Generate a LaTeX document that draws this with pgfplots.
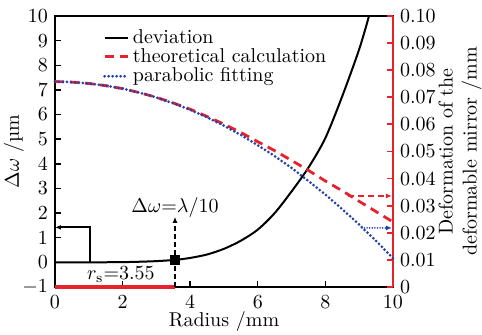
\documentclass[border=0pt]{standalone}
\usepackage{pgfplots}
\pgfplotsset{compat=1.18}
\usetikzlibrary{arrows.meta}
\definecolor{myred}{RGB}{230,35,45}
\definecolor{myblue}{RGB}{35,65,170}
\begin{document}
\begin{tikzpicture}
\begin{axis}[
  name=ax,
  scale only axis, width=169pt, height=135.5pt,
  xmin=0, xmax=10, ymin=-1, ymax=10,
  xtick={0,2,...,10}, ytick={-1,0,...,10},
  xtick pos=bottom, ytick pos=left,
  tick align=inside,
  major tick length=3pt,
  axis line style={line width=0.8pt},
  tick style={line width=0.7pt, black},
  xticklabel style={anchor=center, yshift=-7.5pt},
  xlabel={Radius /mm},
  ylabel={$\Delta\omega$ /µm},
  xlabel style={at={([yshift=-17.5pt]axis description cs:0.5,0)}, anchor=center},
  ylabel style={at={([xshift=-20.5pt]axis description cs:0,0.5)}, anchor=center},
  clip=false,
  legend style={draw=none, fill=none, at={(0.135,0.975)}, anchor=north west, row sep=-2.8pt, inner sep=1pt, nodes={inner xsep=1.5pt}},
  legend cell align=left,
  legend image code/.code={\draw[#1] (0cm,0cm) -- (0.42cm,0cm);},
]
\addplot[black, line width=1pt, smooth] coordinates {
(0,0) (1,0) (2,0.01) (2.5,0.025) (3,0.05) (3.55,0.10) (4,0.18) (4.5,0.32) (5,0.55) (5.5,0.88) (6,1.33) (6.5,2.0) (7,2.88) (7.5,3.85) (8,5.05) (8.5,6.75) (9,8.65) (9.29,10)
};
\addlegendentry{deviation}
\addlegendimage{myred, line width=1.4pt, dash pattern=on 4.5pt off 3pt}
\addlegendentry{theoretical calculation}
\addlegendimage{myblue, line width=1.5pt, line cap=round, dash pattern=on 0pt off 2pt}
\addlegendentry{parabolic fitting}
% red segment on the x axis
\addplot[myred, line width=1.6pt, forget plot] coordinates {(0,-1) (3.55,-1)};
% black annotation
\addplot[black, line width=1pt, -{Latex[length=3pt,width=2.5pt]}, forget plot] coordinates {(1.04,0) (1.04,1.42) (0,1.42)};
% dashed vertical
\addplot[black, line width=0.8pt, dash pattern=on 2.5pt off 1.5pt, -{Latex[length=3pt,width=2.5pt]}, forget plot] coordinates {(3.55,-1) (3.55,1.85)};
\addplot[only marks, mark=square*, mark size=2.2pt, black, forget plot] coordinates {(3.55,0.1)};
\node at (axis cs:3.55,2.22) {$\Delta\omega{=}\lambda/10$};
\node at (axis cs:1.95,-0.5) {$r_{\mathrm{s}}{=}3.55$};
\end{axis}
\begin{axis}[
  scale only axis, width=169pt, height=135.5pt,
  xmin=0, xmax=10, ymin=0, ymax=0.1,
  hide x axis,
  axis y line*=right,
  y axis line style={myred, line width=1.1pt},
  ytick={0,0.01,0.02,0.03,0.04,0.05,0.06,0.07,0.08,0.09,0.1},
  yticklabels={0,0.01,0.02,0.03,0.04,0.05,0.06,0.07,0.08,0.09,0.10},
  tick align=inside,
  major tick length=3pt,
  ytick style={myred, line width=0.9pt},
  ylabel={Deformation of the\\deformable mirror /mm},
  ylabel style={at={([xshift=33.5pt]axis description cs:1,0.5)}, anchor=center, align=center},
  clip=false,
]
\addplot[myred, line width=1.4pt, dash pattern=on 4.5pt off 3pt] coordinates {
(0,0.0758) (0.5,0.0756) (1,0.0751) (1.5,0.0743) (2,0.0732) (2.5,0.0717) (3,0.0700) (3.5,0.0679) (4,0.0656) (4.5,0.0629) (5,0.0601) (5.5,0.0570) (6,0.0536) (6.5,0.0503) (7,0.0467) (7.5,0.0430) (8,0.0391) (8.5,0.0355) (9,0.0316) (9.5,0.0278) (10,0.0240)
};
\addplot[myblue, line width=1.5pt, line cap=round, dash pattern=on 0pt off 2pt] coordinates {
(0,0.0758) (0.5,0.0756) (1,0.0751) (1.5,0.0743) (2,0.0732) (2.5,0.0717) (3,0.0699) (3.5,0.0678) (4,0.0654) (4.5,0.0626) (5,0.0595) (5.5,0.0561) (6,0.0523) (6.5,0.0483) (7,0.0439) (7.5,0.0391) (8,0.0341) (8.5,0.0287) (9,0.0230) (9.5,0.0170) (10,0.0106)
};
\addplot[myred, line width=0.8pt, dash pattern=on 3pt off 2pt, -{Latex[length=3pt,width=2.5pt]}] coordinates {(8.67,0.0336) (9.97,0.0336)};
\addplot[myblue, line width=0.9pt, line cap=round, dash pattern=on 0pt off 1.3pt, -{Latex[length=3pt,width=2.5pt]}] coordinates {(9.08,0.0218) (9.97,0.0218)};
\end{axis}
\pgfresetboundingbox
\path[use as bounding box] ([xshift=-27.5pt,yshift=-24pt]ax.south west) rectangle ([xshift=44.5pt,yshift=8pt]ax.north east);
\end{tikzpicture}
\end{document}
